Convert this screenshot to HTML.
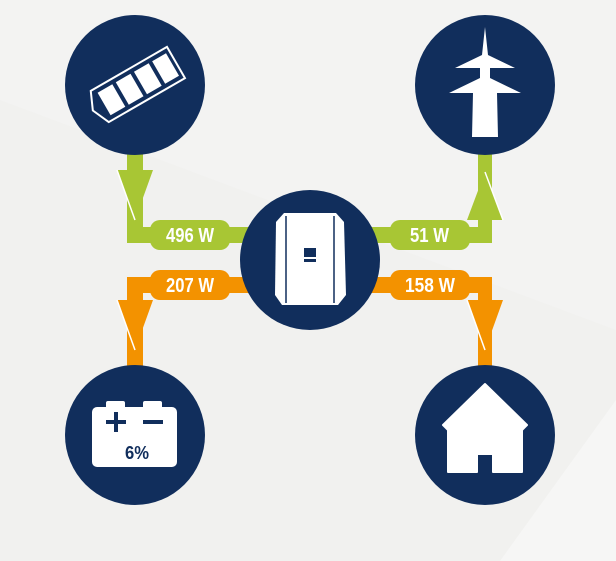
<!DOCTYPE html>
<html><head><style>
html,body{margin:0;padding:0;}
body{width:616px;height:561px;overflow:hidden;background:#f1f1ef;}
svg{display:block;}
text{font-family:"Liberation Sans Narrow","Liberation Sans",sans-serif;font-weight:bold;}
</style></head><body>
<svg width="616" height="561" viewBox="0 0 616 561">
<polygon points="0,0 616,0 616,330 0,100" fill="#f3f3f2"/>
<polygon points="616,400 616,561 500,561" fill="#f6f6f5"/>
<!-- green lines -->
<rect x="127" y="150" width="16" height="93" fill="#a8c634"/>
<rect x="127" y="227" width="140" height="16" fill="#a8c634"/>
<rect x="350" y="227" width="142" height="16" fill="#a8c634"/>
<rect x="478" y="150" width="14" height="93" fill="#a8c634"/>
<polygon points="117,170 153,170 135,220" fill="#a8c634"/>
<polyline points="117,170 135,220" stroke="#fff" stroke-width="1.5" fill="none"/>
<polygon points="467,220 503,220 485,172" fill="#a8c634"/>
<polyline points="503,220 485,172" stroke="#fff" stroke-width="1.5" fill="none"/>
<rect x="150" y="220" width="80" height="30" rx="10" fill="#a8c634"/>
<rect x="390" y="220" width="80" height="30" rx="10" fill="#a8c634"/>
<!-- orange -->
<rect x="127" y="277" width="140" height="16" fill="#f39200"/>
<rect x="127" y="277" width="16" height="95" fill="#f39200"/>
<rect x="350" y="277" width="142" height="16" fill="#f39200"/>
<rect x="478" y="277" width="14" height="95" fill="#f39200"/>
<polygon points="117,300 153,300 135,350" fill="#f39200"/>
<polyline points="117,300 135,350" stroke="#fff" stroke-width="1.5" fill="none"/>
<polygon points="467,300 503,300 485,350" fill="#f39200"/>
<polyline points="467,300 485,350" stroke="#fff" stroke-width="1.5" fill="none"/>
<rect x="150" y="270" width="80" height="30" rx="10" fill="#f39200"/>
<rect x="390" y="270" width="80" height="30" rx="10" fill="#f39200"/>
<g fill="#fff" font-size="20">
<text x="166" y="242" textLength="48" lengthAdjust="spacingAndGlyphs">496 W</text>
<text x="410" y="242" textLength="39" lengthAdjust="spacingAndGlyphs">51 W</text>
<text x="166" y="292" textLength="48" lengthAdjust="spacingAndGlyphs">207 W</text>
<text x="405" y="292" textLength="50" lengthAdjust="spacingAndGlyphs">158 W</text>
</g>
<!-- circles -->
<g fill="#112e5c">
<circle cx="135" cy="85" r="70"/>
<circle cx="485" cy="85" r="70"/>
<circle cx="310" cy="260" r="70"/>
<circle cx="135" cy="435" r="70"/>
<circle cx="485" cy="435" r="70"/>
</g>
<!-- solar icon -->
<g transform="rotate(-30 137 85)">
<polygon points="94,67 182,67 182,103 94,103 86,85" fill="none" stroke="#fff" stroke-width="2"/>
<rect x="99" y="72" width="17" height="26" fill="#fff"/>
<rect x="120" y="72" width="17" height="26" fill="#fff"/>
<rect x="141" y="72" width="17" height="26" fill="#fff"/>
<rect x="162" y="72" width="16" height="26" fill="#fff"/>
</g>
<!-- pylon -->
<polygon fill="#fff" points="485,27 488,55 515,68 490,68 490,78 521,93 497,93 498,137 472,137 473,93 449,93 480,78 480,68 455,68 482,55"/>
<!-- inverter -->
<path d="M284,213 L336,213 L344,222 L346,295 L338,305 L282,305 L275,295 L276,222 Z" fill="#fff"/>
<line x1="286" y1="216" x2="286" y2="303" stroke="#112e5c" stroke-width="1.5"/>
<line x1="334" y1="216" x2="334" y2="303" stroke="#112e5c" stroke-width="1.5"/>
<rect x="304" y="248" width="12" height="9" fill="#112e5c"/>
<rect x="304" y="259" width="12" height="3" fill="#112e5c"/>
<!-- battery -->
<rect x="106" y="401" width="19" height="8" rx="2" fill="#fff"/>
<rect x="143" y="401" width="19" height="8" rx="2" fill="#fff"/>
<rect x="92" y="407" width="85" height="60" rx="5" fill="#fff"/>
<rect x="106" y="420" width="20" height="4" fill="#112e5c"/>
<rect x="114" y="412" width="4" height="20" fill="#112e5c"/>
<rect x="143" y="420" width="20" height="4" fill="#112e5c"/>
<text x="125" y="459" font-size="18" fill="#112e5c" textLength="24" lengthAdjust="spacingAndGlyphs">6%</text>
<!-- house -->
<path d="M485,384 L527,425 L522,430 L522,472 L493,472 L493,454 L477,454 L477,472 L448,472 L448,430 L443,425 Z" fill="#fff" stroke="#fff" stroke-width="2" stroke-linejoin="round"/>
</svg>
</body></html>
